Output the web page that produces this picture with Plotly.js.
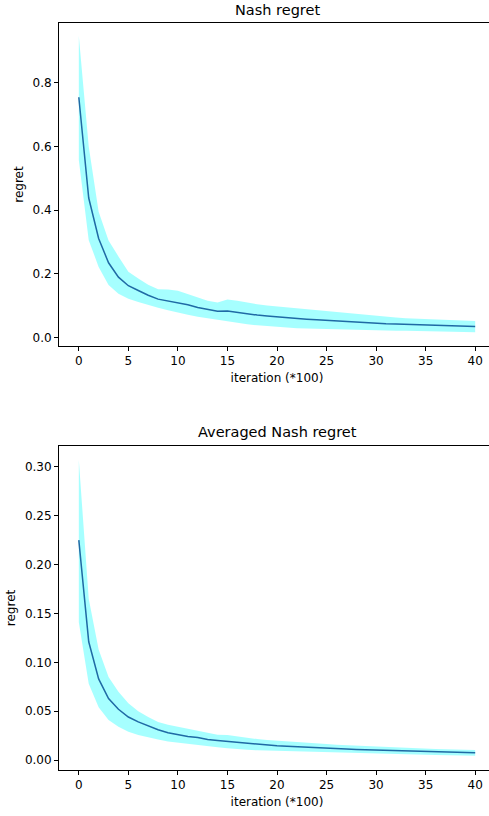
<!DOCTYPE html>
<html>
<head>
<meta charset="utf-8">
<script src="https://cdn.plot.ly/plotly-3.0.1.min.js"></script>
<style>
html, body { margin: 0; padding: 0; overflow: hidden; background: #fff; }
#chart { width: 495px; height: 816px; }
</style>
</head>
<body>
<div id="chart"></div>
<script>
var iterations = [];
for (var i = 0; i <= 40; i++) iterations.push(i);

var nashMean = [0.754, 0.438, 0.311, 0.235, 0.190, 0.163, 0.148, 0.133, 0.121, 0.115, 0.111, 0.103, 0.095, 0.089, 0.083, 0.084, 0.079, 0.075, 0.071, 0.068, 0.065, 0.063, 0.061, 0.058, 0.056, 0.054, 0.052, 0.050, 0.048, 0.047, 0.045, 0.044, 0.043, 0.042, 0.041, 0.040, 0.039, 0.038, 0.037, 0.036, 0.035];
var nashUpper = [0.946, 0.600, 0.395, 0.305, 0.255, 0.207, 0.186, 0.166, 0.152, 0.151, 0.147, 0.136, 0.125, 0.116, 0.110, 0.120, 0.116, 0.110, 0.105, 0.101, 0.098, 0.095, 0.092, 0.089, 0.085, 0.082, 0.079, 0.076, 0.073, 0.070, 0.067, 0.065, 0.063, 0.061, 0.060, 0.058, 0.057, 0.055, 0.054, 0.053, 0.052];
var nashLower = [0.557, 0.306, 0.222, 0.165, 0.138, 0.122, 0.112, 0.102, 0.094, 0.086, 0.078, 0.072, 0.066, 0.061, 0.056, 0.050, 0.046, 0.042, 0.039, 0.036, 0.033, 0.032, 0.030, 0.029, 0.028, 0.027, 0.026, 0.025, 0.025, 0.024, 0.023, 0.023, 0.022, 0.022, 0.021, 0.021, 0.020, 0.019, 0.019, 0.018, 0.017];

var avgMean = [0.225, 0.121, 0.083, 0.063, 0.052, 0.044, 0.039, 0.035, 0.031, 0.028, 0.026, 0.024, 0.023, 0.021, 0.020, 0.019, 0.018, 0.017, 0.016, 0.015, 0.0146, 0.0140, 0.0134, 0.0129, 0.0124, 0.0120, 0.0116, 0.0112, 0.0108, 0.0105, 0.0102, 0.0098, 0.0095, 0.0092, 0.0089, 0.0086, 0.0084, 0.0082, 0.0079, 0.0077, 0.0075];
var avgUpper = [0.307, 0.165, 0.113, 0.085, 0.070, 0.058, 0.050, 0.044, 0.039, 0.036, 0.034, 0.032, 0.030, 0.028, 0.026, 0.0255, 0.024, 0.023, 0.0215, 0.0205, 0.0197, 0.019, 0.0183, 0.0175, 0.0168, 0.0163, 0.0157, 0.0152, 0.0147, 0.0141, 0.0136, 0.0132, 0.0128, 0.0124, 0.0120, 0.0116, 0.0113, 0.0110, 0.0107, 0.0104, 0.0102];
var avgLower = [0.141, 0.078, 0.054, 0.041, 0.034, 0.029, 0.0255, 0.023, 0.021, 0.019, 0.0177, 0.0163, 0.015, 0.014, 0.013, 0.012, 0.011, 0.0104, 0.0100, 0.0097, 0.0095, 0.0091, 0.0088, 0.0085, 0.0081, 0.0078, 0.0075, 0.0073, 0.0070, 0.0068, 0.0065, 0.0063, 0.0061, 0.0059, 0.0057, 0.0054, 0.0052, 0.0050, 0.0048, 0.0046, 0.0044];

var xTickVals = [0, 5, 10, 15, 20, 25, 30, 35, 40];
var nashTickVals = [0.0, 0.2, 0.4, 0.6, 0.8];
var nashTickText = ['0.0', '0.2', '0.4', '0.6', '0.8'];
var avgTickVals = [0.00, 0.05, 0.10, 0.15, 0.20, 0.25, 0.30];
var avgTickText = ['0.00', '0.05', '0.10', '0.15', '0.20', '0.25', '0.30'];

var titles = ['Nash regret', 'Averaged Nash regret'];
var xTitle = 'iteration (*100)';
var yTitle = 'regret';

var fillColor = 'rgba(0,255,255,0.35)';
var lineColor = '#1f6aa5';

function band(x, lo, hi, xa, ya) {
  return [
    {x: x, y: lo, xaxis: xa, yaxis: ya, mode: 'lines', line: {width: 0, color: fillColor}, hoverinfo: 'skip', showlegend: false},
    {x: x, y: hi, xaxis: xa, yaxis: ya, mode: 'lines', line: {width: 0, color: fillColor}, fill: 'tonexty', fillcolor: fillColor, hoverinfo: 'skip', showlegend: false}
  ];
}

var traces = [].concat(
  band(iterations, nashLower, nashUpper, 'x', 'y'),
  [{x: iterations, y: nashMean, xaxis: 'x', yaxis: 'y', mode: 'lines', line: {width: 1.5, color: lineColor}, showlegend: false}],
  band(iterations, avgLower, avgUpper, 'x2', 'y2'),
  [{x: iterations, y: avgMean, xaxis: 'x2', yaxis: 'y2', mode: 'lines', line: {width: 1.5, color: lineColor}, showlegend: false}]
);

var font = {family: 'DejaVu Sans', size: 12, color: '#000'};

function xaxis(anchor) {
  return {
    anchor: anchor, domain: [0, 1], range: [-2, 42],
    tickmode: 'array', tickvals: xTickVals, ticks: 'outside', ticklen: 4, tickwidth: 1, tickcolor: '#000',
    showline: true, linecolor: '#000', linewidth: 1, mirror: true,
    showgrid: false, zeroline: false, tickfont: font,
    title: {text: xTitle, font: font, standoff: 6}
  };
}
function yaxis(anchor, domain, range, tv, tt) {
  return {
    anchor: anchor, domain: domain, range: range,
    tickmode: 'array', tickvals: tv, ticktext: tt, ticks: 'outside', ticklen: 4, tickwidth: 1, tickcolor: '#000',
    showline: true, linecolor: '#000', linewidth: 1, mirror: true,
    showgrid: false, zeroline: false, tickfont: font,
    title: {text: yTitle, font: font, standoff: 6}
  };
}

var layout = {
  width: 495, height: 816,
  margin: {l: 59, r: 0, t: 0, b: 0},
  paper_bgcolor: '#fff', plot_bgcolor: '#fff',
  font: font,
  xaxis: xaxis('y'),
  yaxis: yaxis('x', [0.5760, 0.9718], [-0.026, 0.987], nashTickVals, nashTickText),
  xaxis2: xaxis('y2'),
  yaxis2: yaxis('x2', [0.05637, 0.45343], [-0.0102, 0.3214], avgTickVals, avgTickText),
  annotations: [
    {text: titles[0], xref: 'x domain', yref: 'paper', x: 0.5, y: 1 - 20 / 816, xanchor: 'center', yanchor: 'bottom', showarrow: false, font: {family: 'DejaVu Sans', size: 14.5, color: '#000'}},
    {text: titles[1], xref: 'x2 domain', yref: 'paper', x: 0.5, y: 1 - 442 / 816, xanchor: 'center', yanchor: 'bottom', showarrow: false, font: {family: 'DejaVu Sans', size: 14.5, color: '#000'}}
  ]
};

Plotly.newPlot('chart', traces, layout, {staticPlot: true, displayModeBar: false});
</script>
</body>
</html>
